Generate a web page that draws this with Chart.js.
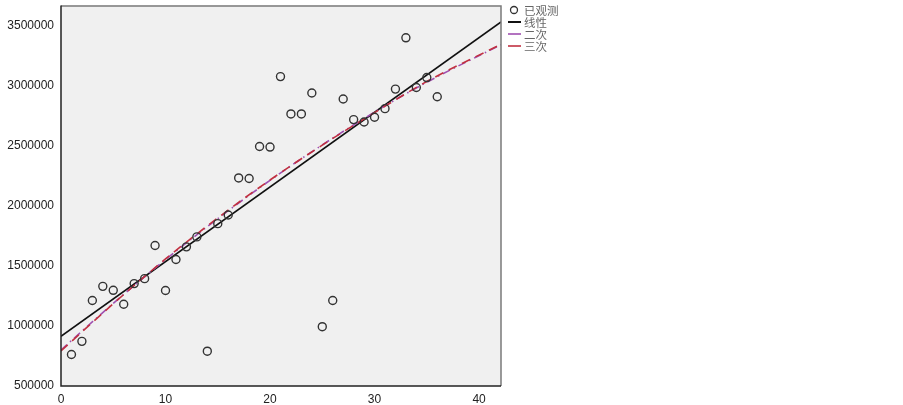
<!DOCTYPE html>
<html>
<head>
<meta charset="utf-8">
<script src="https://cdn.jsdelivr.net/npm/chart.js@4/dist/chart.umd.min.js"></script>
<style>
html,body{margin:0;padding:0;background:#fff;}
#wrap{width:903px;height:405px;position:relative;}
</style>
</head>
<body>
<div id="wrap"><canvas id="c" width="903" height="405"></canvas></div>
<script>
// ---- data ----
const xValues = [1,2,3,4,5,6,7,8,9,10,11,12,13,14,15,16,17,18,19,20,21,22,23,24,25,26,27,28,29,30,31,32,33,34,35,36];
const observed = [762000,872000,1212000,1330000,1297000,1181000,1353000,1394000,1670000,1295000,
  1554000,1659000,1742000,790000,1852000,1924000,2233000,2228000,2495000,2490000,
  3077000,2766000,2766000,2940000,994000,1212000,2890000,2719000,2699000,2738000,
  2810000,2973000,3400000,2986000,3069000,2909000];
const linearX = [0, 42.1];
const linearY = [914000, 3532000];
const curveX = [0,5,10,15,20,25,30,35,42.1];
const quadY  = [800000,1188000,1553000,1894000,2213000,2508000,2781000,3030000,3342000];
const cubicY = [792000,1185000,1558000,1900000,2216000,2506000,2777000,3036000,3346000];
const xTicks = [0,10,20,30,40];
const yTicks = [500000,1000000,1500000,2000000,2500000,3000000,3500000];
const legendLabels = ['已观测','线性','二次','三次'];

const pts = (xs, ys) => xs.map((x,i)=>({x:x, y:ys[i]}));

const bgPlugin = {
  id:'bg',
  beforeDraw(chart){
    const {ctx, chartArea:a} = chart;
    ctx.save();
    ctx.fillStyle = '#f0f0f0';
    ctx.fillRect(a.left, a.top, a.right-a.left, a.bottom-a.top);
    ctx.restore();
  },
  afterDraw(chart){
    const {ctx, chartArea:a} = chart;
    ctx.save();
    // frame
    ctx.strokeStyle = '#7a7a7a';
    ctx.lineWidth = 1.5;
    ctx.beginPath();
    ctx.moveTo(a.left, a.top+0.5); ctx.lineTo(a.right, a.top+0.5);
    ctx.lineTo(a.right, a.bottom);
    ctx.stroke();
    ctx.strokeStyle = '#222';
    ctx.lineWidth = 1.5;
    ctx.beginPath();
    ctx.moveTo(a.left, a.top); ctx.lineTo(a.left, a.bottom); ctx.lineTo(a.right, a.bottom);
    ctx.stroke();
    // legend
    const lx = 508, ty = [11, 23, 35, 47];
    ctx.font = '11.5px "Noto Sans CJK SC", "DejaVu Sans", sans-serif';
    ctx.fillStyle = '#666';
    ctx.textBaseline = 'middle';
    ctx.strokeStyle = '#333'; ctx.lineWidth = 1.3;
    ctx.beginPath(); ctx.arc(lx+6, ty[0]-1, 3.5, 0, Math.PI*2); ctx.stroke();
    const cols = ['#111','#a050b0','#c03040'];
    const widths = [2,1.6,1.6];
    for (let i=0;i<3;i++){
      ctx.strokeStyle = cols[i]; ctx.lineWidth = widths[i];
      ctx.beginPath(); ctx.moveTo(lx, ty[i+1]-1); ctx.lineTo(lx+13, ty[i+1]-1); ctx.stroke();
    }
    for (let i=0;i<4;i++) ctx.fillText(legendLabels[i], lx+16, ty[i]);
    ctx.restore();
  }
};

new Chart(document.getElementById('c'), {
  type:'scatter',
  data:{
    datasets:[
      {label:legendLabels[0], data:pts(xValues, observed), showLine:false,
       pointStyle:'circle', pointRadius:4, pointHoverRadius:4, pointBorderWidth:1.4,
       borderColor:'#333', backgroundColor:'rgba(0,0,0,0)', order:0},
      {label:legendLabels[1], data:pts(linearX, linearY), showLine:true, pointRadius:0,
       borderColor:'#111', borderWidth:1.5, order:3},
      {label:legendLabels[2], data:pts(curveX, quadY), showLine:true, pointRadius:0,
       borderColor:'#a050b0', borderWidth:1.6, borderDash:[8,4,1.5,4], tension:0.4, cubicInterpolationMode:'monotone', order:2},
      {label:legendLabels[3], data:pts(curveX, cubicY), showLine:true, pointRadius:0,
       borderColor:'#c03040', borderWidth:1.6, borderDash:[9,6], tension:0.4, cubicInterpolationMode:'monotone', order:1}
    ]
  },
  options:{
    responsive:false, animation:false,
    layout:{padding:{top:3, right:402, bottom:0, left:0}},
    plugins:{legend:{display:false}, tooltip:{enabled:false}},
    scales:{
      x:{type:'linear', min:0, max:42.1,
        afterBuildTicks(s){ s.ticks = xTicks.map(v=>({value:v})); },
        afterFit(s){ s.height = 19; s.paddingLeft = 0; s.paddingRight = 0; },
        grid:{display:false, drawOnChartArea:false, drawTicks:true, tickLength:5, tickColor:'#222', tickWidth:1.5},
        border:{display:false},
        ticks:{color:'#222', font:{family:'"Liberation Sans", Arial, sans-serif', size:12}, padding:1, maxRotation:0}
      },
      y:{type:'linear', min:500000, max:3670000,
        afterBuildTicks(s){ s.ticks = yTicks.map(v=>({value:v})); },
        afterFit(s){ s.width = 61; s.paddingTop = 0; s.paddingBottom = 0; },
        grid:{display:false, drawOnChartArea:false, drawTicks:true, tickLength:6, tickColor:'#222', tickWidth:1.5},
        border:{display:false},
        ticks:{color:'#222', font:{family:'"Liberation Sans", Arial, sans-serif', size:12}, padding:1,
          callback:v=>String(v)}
      }
    }
  },
  plugins:[bgPlugin]
});
</script>
</body>
</html>
